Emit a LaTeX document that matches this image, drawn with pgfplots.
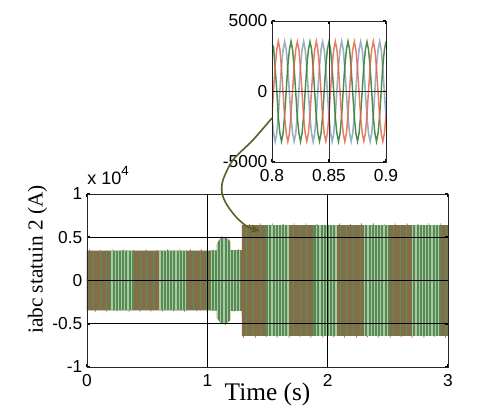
\documentclass[border=0pt]{standalone}
\usepackage{fontspec}
\setmainfont{Liberation Sans}
\newfontfamily\tnr{Liberation Serif}
\usepackage{pgfplots}
\pgfplotsset{compat=1.18}
\usetikzlibrary{patterns.meta,arrows.meta}
\definecolor{olv}{RGB}{128,111,72}
\definecolor{grb}{RGB}{86,138,82}
\definecolor{pale}{RGB}{170,203,168}
\definecolor{sgr}{RGB}{100,140,88}
\definecolor{redc}{RGB}{228,100,72}
\definecolor{grn}{RGB}{58,128,58}
\definecolor{gry}{RGB}{145,168,184}
\definecolor{arr}{RGB}{82,98,40}
\pgfplotstableread{
t g r y
0.80000 3420 -1650 -1830
0.80139 3120 90 -2950
0.80278 1640 1820 -3560
0.80417 110 2950 -2980
0.80556 -1830 3560 -1660
0.80694 -2960 2980 80
0.80833 -3540 1660 1840
0.80972 -2980 -70 2960
0.81111 -1660 -1830 3540
0.81250 90 -2950 2980
0.81389 1840 -3560 1650
0.81528 2960 -2980 -110
0.81667 3560 -1640 -1840
0.81806 2970 80 -2960
0.81944 1660 1840 -3530
0.82083 -90 2960 -2970
0.82222 -1840 3530 -1660
0.82361 -2950 2990 100
0.82500 -3560 1650 1830
0.82639 -2960 -100 2980
0.82778 -1650 -1830 3560
0.82917 100 -2980 2940
0.83056 1830 -3540 1670
0.83194 2950 -2960 -90
0.83333 3540 -1670 -1820
0.83472 3000 110 -2990
0.83611 1670 1820 -3560
0.83750 -110 2990 -2950
0.83889 -1820 3560 -1680
0.84028 -2990 2950 90
0.84167 -3530 1680 1820
0.84306 -2940 -90 3000
0.84444 -1680 -1820 3530
0.84583 90 -3000 2940
0.84722 1820 -3530 1680
0.84861 3000 -2940 -80
0.85000 3530 -1680 -1850
0.85139 2940 80 -2960
0.85278 1680 1850 -3550
0.85417 -80 2960 -2970
0.85556 -1850 3550 -1650
0.85694 -2960 2970 110
0.85833 -3550 1650 1830
0.85972 -2970 -110 2950
0.86111 -1650 -1830 3560
0.86250 110 -2950 2980
0.86389 1830 -3560 1660
0.86528 2950 -2980 -100
0.86667 3560 -1660 -1840
0.86806 2980 100 -2970
0.86944 1660 1840 -3540
0.87083 -100 2970 -2960
0.87222 -1840 3540 -1670
0.87361 -2970 2960 90
0.87500 -3540 1670 1820
0.87639 -2960 -90 2990
0.87778 -1670 -1820 3530
0.87917 90 -2990 2950
0.88056 1820 -3530 1670
0.88194 2990 -2950 -110
0.88333 3530 -1670 -1830
0.88472 2950 110 -2980
0.88611 1670 1830 -3550
0.88750 -110 2980 -2940
0.88889 -1830 3550 -1680
0.89028 -2980 2940 80
0.89167 -3550 1680 1850
0.89306 -2940 -80 2960
0.89444 -1680 -1850 3540
0.89583 80 -2960 2970
0.89722 1850 -3540 1650
0.89861 2960 -2970 -100
0.90000 3540 -1650 -1840
}\zoomtable
\begin{document}
\begin{tikzpicture}
\path[use as bounding box] (0,0) rectangle (360pt,-315pt);
\begin{axis}[
  at={(65.25pt,-275.25pt)}, anchor=south west, scale only axis,
  width=270.75pt, height=129.75pt,
  xmin=0, xmax=3, ymin=-1, ymax=1,
  clip mode=individual,
  xtick={0,1,2,3}, xticklabels={0,1,2,3},
  ytick={-1,-0.5,0,0.5,1}, yticklabels={-1,-0.5,0,0.5,1},
  grid=major, major grid style={black, line width=0.45pt},
  axis on top, tick align=inside, major tick length=2.5pt,
  tick style={black, line width=1.2pt},
  axis line style={black!85, line width=0.6pt},
  ticklabel style={font=\fontsize{13}{15}\selectfont},
  xticklabel style={yshift=-2pt},
  xlabel={Time (s)},
  xlabel style={font=\tnr\fontsize{19}{21}\selectfont, at={(axis description cs:0.5,-0.16)}, anchor=center},
  ylabel={iabc statuin 2 (A)},
  ylabel style={font=\tnr\fontsize{16}{18}\selectfont, at={(axis description cs:-0.137,0.621)}, anchor=center},
]
\addplot[redc, line width=0.6pt] coordinates {(0.02,0.36)(0.07,-0.36)(0.11,0.355)(0.16,-0.36)(0.21,0.36)(0.25,-0.355)(0.30,0.36)(0.35,-0.36)(0.39,0.355)(0.44,-0.36)(0.49,0.36)(0.53,-0.36)(0.58,0.355)(0.63,-0.36)(0.67,0.36)(0.72,-0.355)(0.77,0.36)(0.81,-0.36)(0.86,0.36)(0.91,-0.355)(0.95,0.36)(1.00,-0.36)(1.05,0.355)(1.09,-0.45)(1.12,0.515)(1.15,-0.515)(1.18,0.485)(1.22,-0.36)(1.26,0.36)(1.288,-0.355)(1.30,-0.66)(1.35,0.655)(1.40,-0.66)(1.44,0.66)(1.49,-0.655)(1.54,0.66)(1.58,-0.66)(1.63,0.655)(1.68,-0.66)(1.72,0.66)(1.77,-0.655)(1.82,0.66)(1.86,-0.66)(1.91,0.655)(1.96,-0.66)(2.00,0.66)(2.05,-0.655)(2.10,0.66)(2.14,-0.66)(2.19,0.655)(2.24,-0.66)(2.28,0.66)(2.33,-0.655)(2.38,0.66)(2.42,-0.66)(2.47,0.655)(2.52,-0.66)(2.56,0.66)(2.61,-0.655)(2.66,0.66)(2.70,-0.66)(2.75,0.655)(2.80,-0.66)(2.84,0.66)(2.89,-0.655)(2.94,0.66)(2.98,-0.66)};
\addplot[draw=none, fill=olv, postaction={pattern={Lines[angle=90,distance=5pt,line width=0.6pt]}, pattern color=sgr}] coordinates {(0,0.345)(1.08,0.345)(1.08,0.42)(1.10,0.47)(1.12,0.50)(1.15,0.50)(1.17,0.47)(1.19,0.45)(1.19,0.35)(1.288,0.35)(1.288,0.64)(3,0.64)(3,-0.64)(1.288,-0.64)(1.288,-0.35)(1.19,-0.35)(1.19,-0.46)(1.17,-0.48)(1.15,-0.50)(1.12,-0.50)(1.10,-0.47)(1.08,-0.43)(1.08,-0.345)(0,-0.345)};
\pgfplotsset{gband/.style={draw=none, fill=grb, postaction={pattern={Lines[angle=90,distance=2.4pt,line width=0.8pt]}, pattern color=pale}}}
\addplot[gband] coordinates {(0.19,0.345)(0.38,0.345)(0.38,-0.345)(0.19,-0.345)};
\addplot[gband] coordinates {(0.60,0.345)(0.83,0.345)(0.83,-0.345)(0.60,-0.345)};
\addplot[gband] coordinates {(1.02,0.345)(1.08,0.345)(1.08,0.42)(1.10,0.47)(1.12,0.50)(1.15,0.50)(1.17,0.47)(1.19,0.45)(1.19,0.35)(1.27,0.35)(1.27,-0.35)(1.19,-0.35)(1.19,-0.46)(1.17,-0.48)(1.15,-0.50)(1.12,-0.50)(1.10,-0.47)(1.08,-0.43)(1.08,-0.345)(1.02,-0.345)};
\addplot[gband] coordinates {(1.50,0.64)(1.68,0.64)(1.68,-0.64)(1.50,-0.64)};
\addplot[gband] coordinates {(1.89,0.64)(2.08,0.64)(2.08,-0.64)(1.89,-0.64)};
\addplot[gband] coordinates {(2.30,0.64)(2.51,0.64)(2.51,-0.64)(2.30,-0.64)};
\addplot[gband] coordinates {(2.70,0.64)(2.94,0.64)(2.94,-0.64)(2.70,-0.64)};
\node[anchor=base west, inner sep=0pt, font=\fontsize{13.5}{15}\selectfont] at (axis description cs:0,1) [yshift=6.75pt] {x 10\raisebox{0.5em}{\fontsize{10}{11}\selectfont 4}};
\end{axis}
\begin{axis}[
  at={(204pt,-121.5pt)}, anchor=south west, scale only axis,
  width=85.5pt, height=105.75pt,
  xmin=0.8, xmax=0.9, ymin=-5000, ymax=5000,
  xtick={0.8,0.85,0.9}, xticklabels={0.8,0.85,0.9},
  ytick={-5000,0,5000}, yticklabels={-5000,0,5000},
  grid=major, major grid style={black!80, line width=0.45pt},
  axis on top, tick align=inside, major tick length=2.5pt,
  tick style={black, line width=1.2pt},
  axis line style={black!85, line width=0.6pt},
  ticklabel style={font=\fontsize{13}{15}\selectfont},
  xticklabel style={yshift=-2pt},
]
\addplot[gry, line width=1.2pt, opacity=0.9] table[x=t, y=y] {\zoomtable};
\addplot[grn, line width=1.1pt, opacity=0.9] table[x=t, y=g] {\zoomtable};
\addplot[redc, line width=1.1pt, opacity=0.85] table[x=t, y=r] {\zoomtable};
\end{axis}
\draw[arr, line width=1.2pt, -{Stealth[length=7pt,width=6pt]}] plot[smooth] coordinates {(204pt,-88.5pt) (189.75pt,-105pt) (174.75pt,-120pt) (167.25pt,-135pt) (166.5pt,-144.75pt) (170.25pt,-153.75pt) (177.75pt,-163.5pt) (186pt,-170.25pt) (195pt,-173.25pt)};
\end{tikzpicture}
\end{document}
